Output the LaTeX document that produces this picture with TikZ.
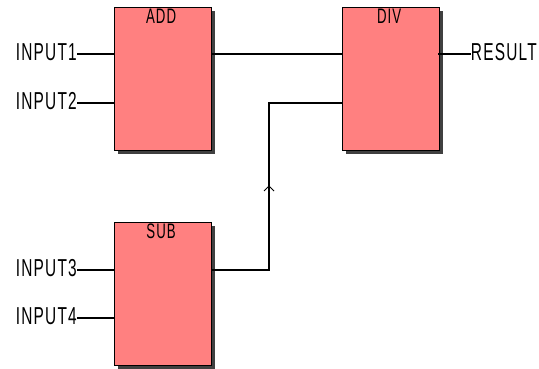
\documentclass[tikz,border=0pt]{standalone}
\usepackage{fontspec}
\setmainfont{Liberation Sans}[FakeStretch=0.63, LetterSpace=5]
\usetikzlibrary{shadows,calc}
\begin{document}
\begin{tikzpicture}[x=1pt,y=-1pt,
  fb/.style={draw=black, line width=1.2pt, fill={rgb,255:red,255;green,128;blue,128},
    minimum width=97pt, minimum height=143pt, anchor=north west, inner sep=0pt,
    drop shadow={shadow xshift=3pt, shadow yshift=-3pt, opacity=1, fill=black!75}},
  pinlbl/.style={anchor=east, inner sep=0pt, font=\fontsize{24.5}{24.5}\selectfont},
  outlbl/.style={anchor=east, inner sep=0pt, font=\fontsize{24.5}{24.5}\selectfont},
  ttl/.style={anchor=north, inner sep=0pt, font=\fontsize{21}{21}\selectfont},
  wire/.style={line width=1.1pt, black}]
\useasboundingbox (0,0) rectangle (539,369);
% blocks
\node[fb] (add) at (114,7) {};
\node[fb] (div) at (342,7) {};
\node[fb] (sub) at (114,222) {};
\node[ttl] (addt) at ($(add.north)+(-2,2)$) {ADD};
\node[ttl] (divt) at ($(div.north)+(-2,2)$) {DIV};
\node[ttl] (subt) at ($(sub.north)+(-2,2)$) {SUB};
% pin coordinates
\coordinate (addi1) at (114,54);
\coordinate (addi2) at (114,103);
\coordinate (addo)  at (211,54);
\coordinate (divi1) at (342,54);
\coordinate (divi2) at (342,103);
\coordinate (divo)  at (438,54);
\coordinate (subi1) at (114,270);
\coordinate (subi2) at (114,318);
\coordinate (subo)  at (211,270);
\coordinate (bend)  at (269,270);
\coordinate (mark)  at (269,186);
% labels
\node[pinlbl] (in1) at (77,52) {INPUT1};
\node[pinlbl] (in2) at (77,101) {INPUT2};
\node[pinlbl] (in3) at (77,268) {INPUT3};
\node[pinlbl] (in4) at (77,316) {INPUT4};
\node[outlbl] (res) at (537,52) {RESULT};
% wires
\draw[wire] (in1.east |- addi1) -- (addi1);
\draw[wire] (in2.east |- addi2) -- (addi2);
\draw[wire] (in3.east |- subi1) -- (subi1);
\draw[wire] (in4.east |- subi2) -- (subi2);
\draw[wire] (addo) -- (divi1);
\draw[wire] (divo) -- (res.west |- divo);
\draw[wire] (subo) -- (bend) -- (bend |- divi2) -- (divi2);
\draw[wire, line width=1pt] ($(mark)+(-5,5)$) -- (mark) -- ($(mark)+(5,5)$);
\end{tikzpicture}
\end{document}
